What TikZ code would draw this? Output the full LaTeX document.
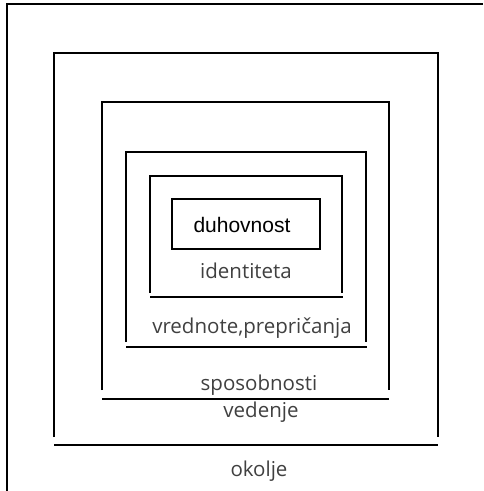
\documentclass[tikz,border=0pt]{standalone}
\usepackage{fontspec}
\setmainfont{Open Sans}
\newfontfamily\arialfont{Liberation Sans}
\definecolor{labelgray}{HTML}{404040}
\begin{document}
\begin{tikzpicture}[x=1pt,y=-1pt,
  frameline/.style={line width=2pt,black},
  layerlabel/.style={anchor=base,inner sep=0pt,text=labelgray,font=\fontsize{20.5}{24}\selectfont},
  corelabel/.style={anchor=base,inner sep=0pt,text=black,font=\arialfont\fontsize{21}{24}\selectfont}]
\useasboundingbox (0,0) rectangle (483,491);
% outer frame (environment)
\draw[frameline] (7,491) -- (7,4) -- (483,4);
% behaviour
\draw[frameline] (54,437) -- (54,53) -- (438,53) -- (438,437);
\draw[frameline] (54,445) -- (438,445);
% capabilities
\draw[frameline] (102,390) -- (102,102) -- (389,102) -- (389,390);
\draw[frameline] (102,399) -- (389,399);
% values, beliefs
\draw[frameline] (126,342) -- (126,152) -- (366,152) -- (366,342);
\draw[frameline] (126,347) -- (367,347);
% identity
\draw[frameline] (150,293) -- (150,176) -- (342,176) -- (342,293);
\draw[frameline] (150,297) -- (343,297);
% spirituality
\draw[frameline] (172,199) rectangle (320,249);
% labels
\node[corelabel] (duh) at (242,232) {duhovnost};
\node[layerlabel] (ide) at (246,278) {identiteta};
\node[layerlabel] (vre) at (252,333) {vrednote,prepričanja};
\node[layerlabel] (spo) at (259,390) {sposobnosti};
\node[layerlabel] (ved) at (261,417) {vedenje};
\node[layerlabel] (oko) at (259,476) {okolje};
\end{tikzpicture}
\end{document}
